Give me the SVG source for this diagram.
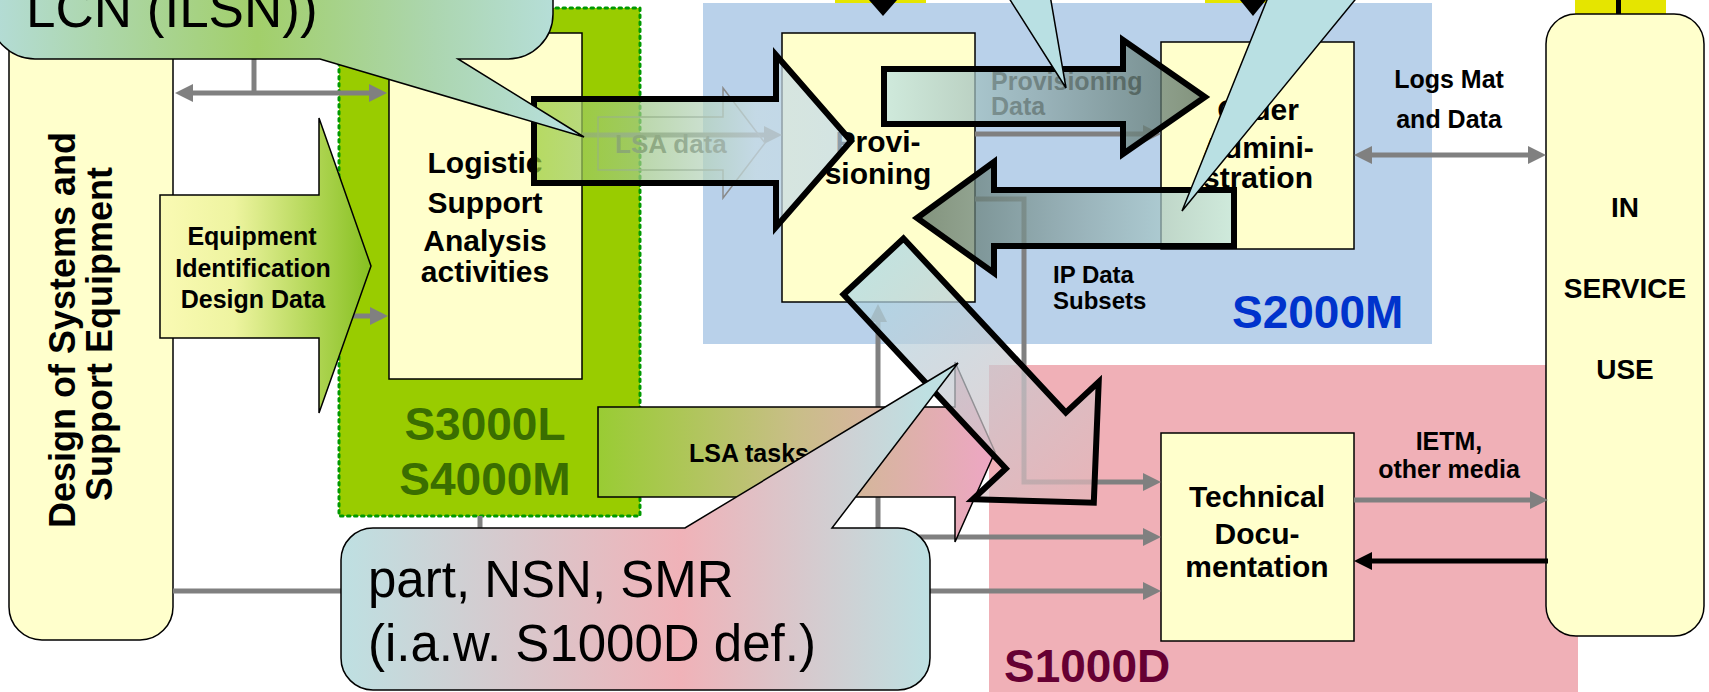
<svg xmlns="http://www.w3.org/2000/svg" width="1709" height="692" viewBox="0 0 1709 692">
<defs>
<style>
.box{fill:#ffffcc;stroke:#000;stroke-width:1.5}
.t{font-family:"Liberation Sans",Arial,sans-serif;font-weight:bold;fill:#000}
.r{font-family:"Liberation Sans",Arial,sans-serif;fill:#000}
.c{text-anchor:middle}
.gl{fill:none;stroke:#808080;stroke-width:5}
.big{stroke:#000;stroke-width:6;stroke-linejoin:miter;fill-opacity:0.72}
.call{stroke:#000;stroke-width:1.5;stroke-linejoin:miter}
.tail{fill:#b9e0e3;stroke:#000;stroke-width:1.5}
</style>
<marker id="ga" viewBox="0 0 18 18" refX="8" refY="9" markerWidth="18" markerHeight="18" markerUnits="userSpaceOnUse" orient="auto-start-reverse"><path d="M0,0 L18,9 L0,18 z" fill="#808080"/></marker>
<marker id="ba" viewBox="0 0 18 18" refX="8" refY="9" markerWidth="18" markerHeight="18" markerUnits="userSpaceOnUse" orient="auto-start-reverse"><path d="M0,0 L18,9 L0,18 z" fill="#000"/></marker>
<linearGradient id="gEq" x1="0" y1="0" x2="1" y2="0"><stop offset="0" stop-color="#fafab4"/><stop offset="0.35" stop-color="#eef4a0"/><stop offset="1" stop-color="#86c020"/></linearGradient>
<linearGradient id="gTask" x1="0" y1="0" x2="1" y2="0"><stop offset="0" stop-color="#99cc33"/><stop offset="0.5" stop-color="#c9be88"/><stop offset="1" stop-color="#eea6c4"/></linearGradient>
<linearGradient id="gA1" x1="0" y1="0" x2="1" y2="0"><stop offset="0" stop-color="#9acc38"/><stop offset="0.35" stop-color="#a2c98e"/><stop offset="0.7" stop-color="#c8dce4"/><stop offset="1" stop-color="#c2d9ec"/></linearGradient>
<linearGradient id="gA2" x1="0" y1="0" x2="1" y2="0"><stop offset="0" stop-color="#bde2e2"/><stop offset="0.5" stop-color="#8ca6a6"/><stop offset="1" stop-color="#52695e"/></linearGradient>
<linearGradient id="gA3" x1="1" y1="0" x2="0" y2="0"><stop offset="0" stop-color="#bde2e2"/><stop offset="0.5" stop-color="#8ca6a6"/><stop offset="1" stop-color="#52695e"/></linearGradient>
<linearGradient id="gA4" x1="0" y1="0" x2="1" y2="0"><stop offset="0" stop-color="#acd7e6"/><stop offset="0.5" stop-color="#c9c9cf"/><stop offset="1" stop-color="#e5b5b8"/></linearGradient>
<linearGradient id="gC1" x1="0" y1="0" x2="1" y2="0"><stop offset="0" stop-color="#b4dcd8"/><stop offset="0.45" stop-color="#a2cf6a"/><stop offset="0.75" stop-color="#acd6b0"/><stop offset="1" stop-color="#b8e0e2"/></linearGradient>
<linearGradient id="gC2" x1="0" y1="0" x2="1" y2="0"><stop offset="0" stop-color="#bee0e2"/><stop offset="0.55" stop-color="#f0b2b8"/><stop offset="0.95" stop-color="#bee0e2"/></linearGradient>
</defs>
<rect width="1709" height="692" fill="#fff"/>

<g id="tabs">
<rect x="835" y="0" width="91" height="12" fill="#e5e500"/>
<rect x="1205" y="0" width="88" height="12" fill="#e5e500"/>
<rect x="1575" y="0" width="91" height="16" fill="#e5e500"/>
</g>

<g id="regions">
<rect id="S3000L" x="339" y="8" width="301" height="508" fill="#99cc00" stroke="#009900" stroke-width="3" stroke-dasharray="2.5 4.5" stroke-linecap="round"/>
<rect id="S2000M" x="703" y="3" width="729" height="341" fill="#b9d1ea"/>
<rect id="S1000D" x="989" y="365" width="589" height="327" fill="#f0b0b7"/>
</g>

<g id="tabmarks">
<path d="M869,0 L897,0 L883,16 Z" fill="#000"/>
<path d="M1240,0 L1266,0 L1253,16 Z" fill="#000"/>
<rect x="1616" y="0" width="5" height="14" fill="#000"/>
</g>

<g id="node-design">
<rect x="9" y="-40" width="164" height="680" rx="33" class="box"/>
<text class="t c" font-size="36" transform="translate(75,330) rotate(-90)">Design of Systems and</text>
<text class="t c" font-size="36" transform="translate(112,334) rotate(-90)">Support Equipment</text>
</g>

<g id="node-inservice">
<rect x="1546" y="14" width="158" height="622" rx="30" class="box"/>
<text class="t c" font-size="28" x="1625" y="217">IN</text>
<text class="t c" font-size="28" x="1625" y="298">SERVICE</text>
<text class="t c" font-size="28" x="1625" y="379">USE</text>
</g>

<g id="node-lsa">
<rect x="389" y="33" width="193" height="346" class="box"/>
<text class="t c" font-size="30" x="485" y="173">Logistic</text>
<text class="t c" font-size="30" x="485" y="213">Support</text>
<text class="t c" font-size="30" x="485" y="251">Analysis</text>
<text class="t c" font-size="30" x="485" y="282">activities</text>
</g>

<g id="node-prov">
<rect x="782" y="33" width="193" height="269" class="box"/>
<text class="t c" font-size="30" x="878" y="152">Provi-</text>
<text class="t c" font-size="30" x="878" y="184">sioning</text>
</g>

<g id="node-order">
<rect x="1161" y="42" width="193" height="207" class="box"/>
<text class="t c" font-size="30" x="1258" y="120">Order</text>
<text class="t c" font-size="30" x="1258" y="158">Admini-</text>
<text class="t c" font-size="30" x="1258" y="188">stration</text>
</g>

<g id="node-techdoc">
<rect x="1161" y="433" width="193" height="208" class="box"/>
<text class="t c" font-size="30" x="1257" y="507">Technical</text>
<text class="t c" font-size="30" x="1257" y="544">Docu-</text>
<text class="t c" font-size="30" x="1257" y="577">mentation</text>
</g>

<g id="region-labels">
<text class="t c" font-size="46" x="485" y="440" style="fill:#3a6e00">S3000L</text>
<text class="t c" font-size="46" x="485" y="495" style="fill:#3a6e00">S4000M</text>
<text class="t" font-size="46" x="1232" y="328" style="fill:#0033cc">S2000M</text>
<text class="t" font-size="46" x="1004" y="682" style="fill:#660033">S1000D</text>
</g>

<g id="connectors">
<path class="gl" d="M185,93 H377" marker-start="url(#ga)" marker-end="url(#ga)"/>
<path class="gl" d="M254,50 V93"/>
<path class="gl" d="M175,316 H378" marker-end="url(#ga)"/>
<path class="gl" d="M582,135 H772" marker-end="url(#ga)"/>
<path class="gl" d="M975,134 H1151" marker-end="url(#ga)"/>
<path class="gl" d="M1364,155 H1536" marker-start="url(#ga)" marker-end="url(#ga)"/>
<path class="gl" d="M1354,500 H1538" marker-end="url(#ga)"/>
<path d="M1548,561 H1364" fill="none" stroke="#000" stroke-width="5" marker-end="url(#ba)"/>
<path class="gl" d="M173,591 H1151" marker-end="url(#ga)"/>
<path class="gl" d="M480,516 V591"/>
<path class="gl" d="M878,591 V314" marker-end="url(#ga)"/>
<path class="gl" d="M878,537 H1151" marker-end="url(#ga)"/>
<path class="gl" d="M975,199 H1024 V482 H1151" marker-end="url(#ga)"/>
<text class="t" font-size="25" x="1449" y="88" text-anchor="middle">Logs Mat</text>
<text class="t" font-size="25" x="1449" y="128" text-anchor="middle">and Data</text>
<text class="t" font-size="25" x="1449" y="450" text-anchor="middle">IETM,</text>
<text class="t" font-size="25" x="1449" y="478" text-anchor="middle">other media</text>
<text class="t" font-size="24" x="1053" y="283">IP Data</text>
<text class="t" font-size="24" x="1053" y="309">Subsets</text>
<text class="t" font-size="25" x="991" y="90" style="fill:#222">Provisioning</text>
<text class="t" font-size="25" x="991" y="115" style="fill:#222">Data</text>
</g>

<g id="arrow-equipment">
<path d="M160,195 H319 V118 L371,266 L319,413 V338 H160 Z" fill="url(#gEq)" stroke="#000" stroke-width="1.5"/>
<text class="t c" font-size="25" x="252" y="245">Equipment</text>
<text class="t c" font-size="25" x="253" y="277">Identification</text>
<text class="t c" font-size="25" x="253" y="308">Design Data</text>
</g>

<g id="arrow-lsadata">
<path d="M598,117 H723 V88 L765,143 L723,198 V170 H598 Z" fill="none" stroke="#8a8a8a" stroke-width="1.5"/>
<text class="t" font-size="26" x="615" y="153" style="fill:#555">LSA data</text>
</g>

<g id="arrow-lsatasks">
<path d="M598,407 H955 V362 L995,452 L955,542 V497 H598 Z" fill="url(#gTask)" stroke="#000" stroke-width="1.5"/>
<text class="t" font-size="25" x="689" y="462">LSA tasks</text>
</g>

<g id="big-arrows">
<path class="big" d="M534,99 H776 V55 L851,141 L776,227 V183 H534 Z" fill="url(#gA1)"/>
<path class="big" d="M884,69 H1123 V40 L1205,97 L1123,154 V124 H884 Z" fill="url(#gA2)"/>
<path class="big" d="M1234,190 H994 V162 L917,218 L994,273 V246 H1234 Z" fill="url(#gA3)"/>
<g transform="translate(873.5,266.5) rotate(47)">
<path class="big" d="M0,-41 H238 V-86 L323,0 L238,86 V41 H0 Z" fill="url(#gA4)"/>
</g>
</g>

<g id="callout-lcn">
<path class="call" d="M-10,-60 H553 V14 A45,45 0 0 1 508,59 H458 L584,137 L320,59 H35 A45,45 0 0 1 -10,14 Z" fill="url(#gC1)"/>
<text class="r" font-size="53" x="26" y="27">LCN (ILSN))</text>
</g>

<g id="callout-part">
<path class="call" d="M373,528 H685 L958,363 L832,528 H898 A32,32 0 0 1 930,560 V658 A32,32 0 0 1 898,690 H373 A32,32 0 0 1 341,658 V560 A32,32 0 0 1 373,528 Z" fill="url(#gC2)"/>
<text class="r" font-size="51" x="368" y="597">part, NSN, SMR</text>
<text class="r" font-size="51" x="368" y="661">(i.a.w. S1000D def.)</text>
</g>

<g id="callout-tails">
<path class="tail" d="M1007,-5 L1050,-5 L1066,88 Z"/>
<path class="tail" d="M1269,-5 L1359,-5 L1182,211 Z"/>
</g>
</svg>
